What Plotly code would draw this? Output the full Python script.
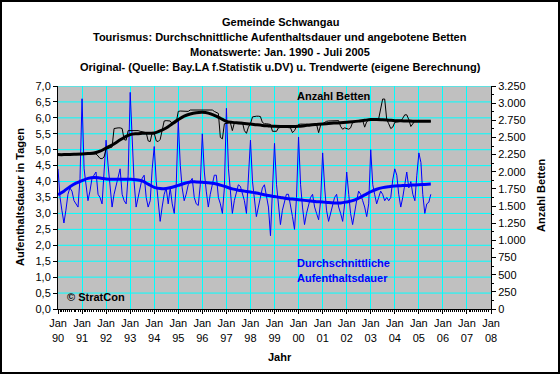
import plotly.graph_objects as go

# ---------------- data ----------------
years = list(range(1990, 2006))

# Durchschnittliche Aufenthaltsdauer (Tage), monthly Jan 1990 - Jul 2005
dauer = [
    4.4, 3.5, 3.1, 2.7, 3.1, 3.6, 3.8, 3.7, 3.4, 3.3, 3.2, 4.1,   # 1990
    6.6, 4.4, 3.9, 3.4, 3.7, 4.1, 4.2, 4.3, 3.6, 3.5, 3.3, 4.2,   # 1991
    5.3, 4.5, 3.8, 3.2, 3.6, 3.9, 4.2, 4.4, 3.6, 3.4, 3.3, 4.2,   # 1992
    6.8, 5.0, 4.0, 3.2, 3.5, 3.9, 4.1, 4.2, 3.5, 3.2, 3.4, 4.4,   # 1993
    5.1, 4.0, 3.3, 2.75, 3.2, 3.6, 3.8, 3.3, 3.8, 3.3, 3.0, 3.9,  # 1994
    5.9, 4.5, 3.8, 3.4, 3.6, 3.9, 4.0, 4.1, 3.5, 3.3, 3.25, 3.9,  # 1995
    5.5, 4.3, 3.7, 3.2, 3.6, 3.9, 4.2, 4.2, 3.5, 3.3, 3.0, 3.8,   # 1996
    6.3, 4.4, 3.6, 3.0, 3.4, 3.7, 3.9, 3.85, 3.6, 3.4, 3.0, 4.2,  # 1997
    5.3, 4.0, 3.4, 2.9, 3.2, 3.5, 3.8, 3.9, 3.5, 3.2, 2.3, 3.6,   # 1998
    5.2, 3.9, 3.3, 2.65, 3.1, 3.4, 3.6, 3.6, 3.3, 2.9, 2.5, 3.5,  # 1999
    5.4, 3.9, 3.2, 2.65, 3.0, 3.3, 3.5, 3.6, 3.2, 3.0, 2.8, 3.4,  # 2000
    4.9, 3.8, 3.1, 2.75, 3.0, 3.3, 3.5, 3.6, 3.2, 3.0, 2.75, 3.3, # 2001
    4.3, 3.6, 3.0, 2.65, 3.1, 3.4, 3.7, 3.6, 3.4, 3.2, 2.9, 3.3,  # 2002
    5.0, 3.9, 3.6, 3.3, 3.5, 3.7, 3.6, 3.4, 3.5, 3.4, 3.5, 4.05,  # 2003
    4.4, 4.2, 3.6, 3.2, 3.5, 3.9, 4.3, 3.8, 4.0, 3.6, 3.4, 4.2,   # 2004
    4.9, 4.6, 3.6, 3.0, 3.3, 3.35, 3.6,                           # 2005
]

# Anzahl Betten, monthly Jan 1990 - Jul 2005
betten = [
    2240, 2240, 2245, 2245, 2250, 2255, 2255, 2250, 2250, 2245, 2245, 2250,  # 1990
    2255, 2255, 2260, 2260, 2260, 2265, 2265, 2260, 2230, 2195, 2190, 2215,  # 1991
    2330, 2340, 2350, 2360, 2630, 2640, 2640, 2640, 2630, 2470, 2460, 2600,  # 1992
    2600, 2600, 2610, 2610, 2600, 2590, 2580, 2580, 2570, 2450, 2440, 2570,  # 1993
    2560, 2450, 2440, 2470, 2600, 2740, 2745, 2745, 2740, 2700, 2700, 2720,  # 1994
    2880, 2885, 2885, 2885, 2880, 2880, 2900, 2900, 2900, 2900, 2900, 2900,  # 1995
    2900, 2905, 2905, 2905, 2905, 2900, 2880, 2860, 2850, 2500, 2480, 2700,  # 1996
    2700, 2710, 2720, 2600, 2710, 2720, 2720, 2720, 2720, 2600, 2560, 2650,  # 1997
    2700, 2800, 2810, 2810, 2810, 2805, 2720, 2700, 2700, 2700, 2690, 2590,  # 1998
    2585, 2590, 2640, 2650, 2650, 2650, 2650, 2645, 2640, 2570, 2600, 2660,  # 1999
    2690, 2695, 2695, 2700, 2700, 2700, 2700, 2695, 2695, 2690, 2570, 2680,  # 2000
    2700, 2720, 2735, 2740, 2740, 2740, 2740, 2745, 2745, 2660, 2620, 2640,  # 2001
    2630, 2620, 2640, 2720, 2730, 2740, 2745, 2745, 2750, 2650, 2730, 2750,  # 2002
    2750, 2750, 2755, 2760, 2770, 2900, 3060, 3060, 2760, 2700, 2630, 2650,  # 2003
    2720, 2725, 2730, 2735, 2780, 2830, 2830, 2760, 2660, 2700, 2740, 2740,  # 2004
    2740, 2740, 2740, 2735, 2735, 2735, 2735,                                # 2005
]

# Trend values, quarterly (Jan, Apr, Jul, Oct) 1990 - Jul 2005
dauer_trend = [
    3.59, 3.70, 3.84, 3.95,
    4.03, 4.10, 4.13, 4.11,
    4.08, 4.07, 4.07, 4.07,
    4.07, 4.06, 4.02, 3.92,
    3.82, 3.78, 3.78, 3.82,
    3.88, 3.94, 3.99, 3.99,
    3.98, 3.96, 3.94, 3.89,
    3.83, 3.77, 3.73, 3.70,
    3.67, 3.64, 3.60, 3.56,
    3.53, 3.50, 3.47, 3.45,
    3.43, 3.41, 3.39, 3.37,
    3.36, 3.34, 3.33, 3.33,
    3.36, 3.40, 3.48, 3.58,
    3.68, 3.76, 3.81, 3.84,
    3.86, 3.87, 3.88, 3.89,
    3.90, 3.91, 3.92,
]
betten_trend = [
    2250, 2250, 2252, 2255,
    2259, 2265, 2273, 2300,
    2346, 2390, 2444, 2500,
    2541, 2555, 2560, 2563,
    2565, 2595, 2638, 2700,
    2760, 2810, 2842, 2860,
    2866, 2855, 2823, 2780,
    2735, 2720, 2711, 2703,
    2696, 2685, 2675, 2668,
    2662, 2660, 2660, 2661,
    2662, 2672, 2683, 2690,
    2696, 2703, 2710, 2716,
    2720, 2728, 2738, 2750,
    2760, 2762, 2758, 2752,
    2745, 2742, 2740, 2737,
    2735, 2735, 2735,
]

tick_years = list(range(1990, 2009))
tick_labels = ["Jan<br>%02d" % (y % 100) for y in tick_years]
left_ticks = [i * 0.5 for i in range(15)]   # 0,0 ... 7,0

# ---------------- build x (dates) ----------------
months = [f"{y}-{m:02d}-01" for y in years for m in range(1, 13)][:len(dauer)]
quarters = [f"{y}-{m:02d}-01" for y in years for m in (1, 4, 7, 10)][:len(dauer_trend)]
tick_vals = [f"{y}-01-01" for y in tick_years]

BLUE = "#0000FF"
CYAN = "#00FFFF"
FONT = "Liberation Sans, Arial, sans-serif"

fig = go.Figure()
fig.add_trace(go.Scatter(x=months, y=dauer, mode="lines",
                         line=dict(color=BLUE, width=1), hoverinfo="skip"))
fig.add_trace(go.Scatter(x=quarters, y=dauer_trend, mode="lines",
                         line=dict(color=BLUE, width=3, shape="spline"), hoverinfo="skip"))
fig.add_trace(go.Scatter(x=months, y=betten, yaxis="y2", mode="lines",
                         line=dict(color="black", width=1), hoverinfo="skip"))
fig.add_trace(go.Scatter(x=quarters, y=betten_trend, yaxis="y2", mode="lines",
                         line=dict(color="black", width=3, shape="spline"), hoverinfo="skip"))

L, R, T, B = 58, 491, 86, 309
W, H = 560, 374
pw, ph = R - L, B - T


def px(x):
    return (x - L) / pw


def py(y):
    return (B - y) / ph


annotations = []
titles = [
    ("Gemeinde Schwangau", 22),
    ("Tourismus: Durchschnittliche Aufenthaltsdauer und angebotene Betten", 37),
    ("Monatswerte: Jan. 1990 - Juli 2005", 52),
    ("Original- (Quelle: Bay.LA f.Statistik u.DV) u. Trendwerte (eigene Berechnung)", 67),
]
for txt, yy in titles:
    annotations.append(dict(text="<b>%s</b>" % txt, x=px(280), y=py(yy), xref="paper", yref="paper",
                            xanchor="center", yanchor="middle", showarrow=False,
                            font=dict(size=11, color="black", family=FONT)))

annotations += [
    dict(text="<b>Aufenthaltsdauer in Tagen</b>", x=px(20), y=py(197), textangle=-90),
    dict(text="<b>Anzahl Betten</b>", x=px(541), y=py(195), textangle=-90),
    dict(text="<b>Jahr</b>", x=px(280), y=py(357)),
    dict(text="<b>Anzahl Betten</b>", x=px(295), y=py(96), xanchor="left"),
    dict(text="<b>© StratCon</b>", x=px(65), y=py(297), xanchor="left"),
    dict(text="<b>Durchschnittliche</b>", x=px(295), y=py(263), xanchor="left", font_color=BLUE),
    dict(text="<b>Aufenthaltsdauer</b>", x=px(295), y=py(278), xanchor="left", font_color=BLUE),
]
for a in annotations[len(titles):]:
    a.setdefault("xanchor", "center")
    a.update(xref="paper", yref="paper", yanchor="middle", showarrow=False)
    col = a.pop("font_color", "black")
    a["font"] = dict(size=11, color=col, family=FONT)

# horizontal grid lines at the left-axis ticks (drawn beneath the traces)
shapes = [dict(type="line", xref="paper", yref="y", x0=0, x1=1, y0=v, y1=v,
               line=dict(color=CYAN, width=1), layer="below")
          for v in left_ticks[1:]]
shapes.append(dict(type="rect", xref="paper", yref="paper",
                   x0=px(1), x1=px(559), y0=py(373), y1=py(1),
                   line=dict(color="black", width=2), fillcolor="rgba(0,0,0,0)", layer="above"))

fig.update_layout(
    width=W, height=H,
    margin=dict(l=L, r=W - R, t=T, b=H - B, pad=0),
    paper_bgcolor="white", plot_bgcolor="#C0C0C0",
    showlegend=False,
    separators=",.",
    font=dict(family=FONT, size=11, color="black"),
    annotations=annotations,
    shapes=shapes,
    xaxis=dict(
        type="date", range=["1990-01-01", "2008-01-01"],
        tickvals=tick_vals, ticktext=tick_labels,
        showgrid=True, gridcolor=CYAN, gridwidth=1,
        showline=True, linecolor="black", linewidth=1,
        ticks="outside", ticklen=4, tickcolor="black",
        minor=dict(dtick="M1", ticks="outside", ticklen=2, tickcolor="black", showgrid=False),
        zeroline=False, tickangle=0, fixedrange=True,
    ),
    yaxis=dict(
        range=[0, 7], tickmode="array", tickvals=left_ticks,
        ticktext=[("%.1f" % v).replace(".", ",") for v in left_ticks],
        showgrid=False,
        showline=True, linecolor="black", linewidth=1,
        ticks="outside", ticklen=4, tickcolor="black",
        zeroline=False,
    ),
    yaxis3=dict(
        range=[0, 7], tickmode="linear", dtick=0.25, tick0=0,
        overlaying="y", side="left", showgrid=False, showticklabels=False,
        showline=False, ticks="outside", ticklen=2, tickcolor="black", zeroline=False,
    ),
    yaxis2=dict(
        range=[0, 3250], tickmode="linear", dtick=250, tick0=0, tickformat=",d",
        overlaying="y", side="right", showgrid=False,
        showline=True, linecolor="black", linewidth=1,
        ticks="outside", ticklen=4, tickcolor="black",
        minor=dict(dtick=125, ticks="outside", ticklen=2, tickcolor="black", showgrid=False),
        zeroline=False,
    ),
)

fig.write_html("out.html", config={"displayModeBar": False},
               post_script="document.body.style.margin='0';document.body.style.overflow='hidden';")
